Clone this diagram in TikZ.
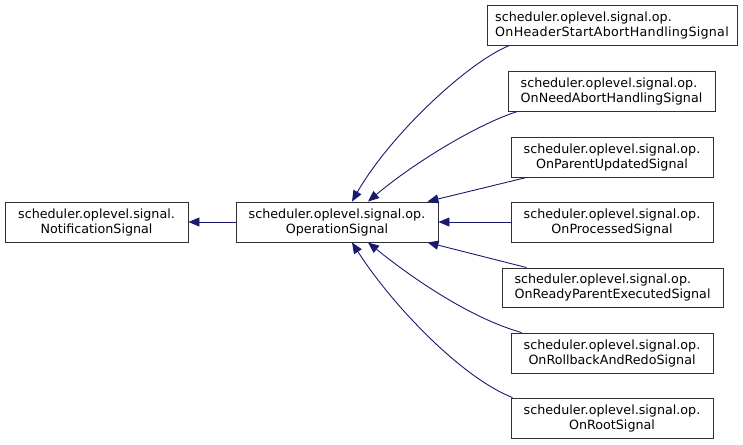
\documentclass[tikz,border=0pt]{standalone}
\usepackage{fontspec}
\setmainfont{DejaVu Sans}
\usetikzlibrary{arrows.meta}
\definecolor{edgeblue}{RGB}{25,25,112}
\definecolor{boxline}{RGB}{48,48,48}
\tikzset{
  cls/.style={draw=boxline, line width=0.9pt, fill=white, align=center, inner sep=0pt,
    minimum height=40pt, font=\fontsize{12.7}{15}\selectfont, text=black},
  clsl/.style={cls, align=left},
  edge/.style={draw=edgeblue, line width=0.9pt, -{Triangle[length=11pt,width=9pt]}},
}
\begin{document}
\begin{tikzpicture}[x=1pt,y=-1pt]
\useasboundingbox (0,0) rectangle (743,444);
\node[cls, minimum width=183pt] (notif) at (96.5,222) {scheduler.oplevel.signal.\\NotificationSignal};
\node[cls, minimum width=202pt] (op) at (337,222) {scheduler.oplevel.signal.op.\\OperationSignal};
\node[clsl, minimum width=250pt] (hdr) at (612,25) {scheduler.oplevel.signal.op.\\{\addfontfeature{LetterSpace=2}OnHeaderStartAbortHandlingSignal}};
\node[clsl, minimum width=207pt] (need) at (611.5,91) {scheduler.oplevel.signal.op.\\OnNeedAbortHandlingSignal};
\node[cls, minimum width=202pt] (par) at (612,157) {scheduler.oplevel.signal.op.\\OnParentUpdatedSignal};
\node[cls, minimum width=202pt] (proc) at (612,222) {scheduler.oplevel.signal.op.\\OnProcessedSignal};
\node[clsl, minimum width=221pt, minimum height=39pt] (ready) at (612.5,287.5) {scheduler.oplevel.signal.op.\\OnReadyParentExecutedSignal};
\node[cls, minimum width=202pt] (roll) at (612,353) {scheduler.oplevel.signal.op.\\OnRollbackAndRedoSignal};
\node[cls, minimum width=202pt] (root) at (612,418) {scheduler.oplevel.signal.op.\\OnRootSignal};

\draw[edge] (op.west) -- (notif.east);
\draw[edge] ([xshift=23pt]hdr.south west) .. controls (468,62) and (390,135) .. ([xshift=15pt]op.north);
\draw[edge] ([xshift=10pt]need.south west) .. controls (478,124) and (415,162) .. ([xshift=31pt]op.north);
\draw[edge] ([xshift=16pt]par.south west) -- ([xshift=-11pt]op.north east);
\draw[edge] (proc.west) -- (op.east);
\draw[edge] ([xshift=25pt]ready.north west) -- ([xshift=-11pt]op.south east);
\draw[edge] ([xshift=11pt]roll.north west) .. controls (470,318) and (412,278) .. ([xshift=31pt]op.south);
\draw[edge] ([xshift=2pt]root.north west) .. controls (462,378) and (392,305) .. ([xshift=15pt]op.south);
\end{tikzpicture}
\end{document}
